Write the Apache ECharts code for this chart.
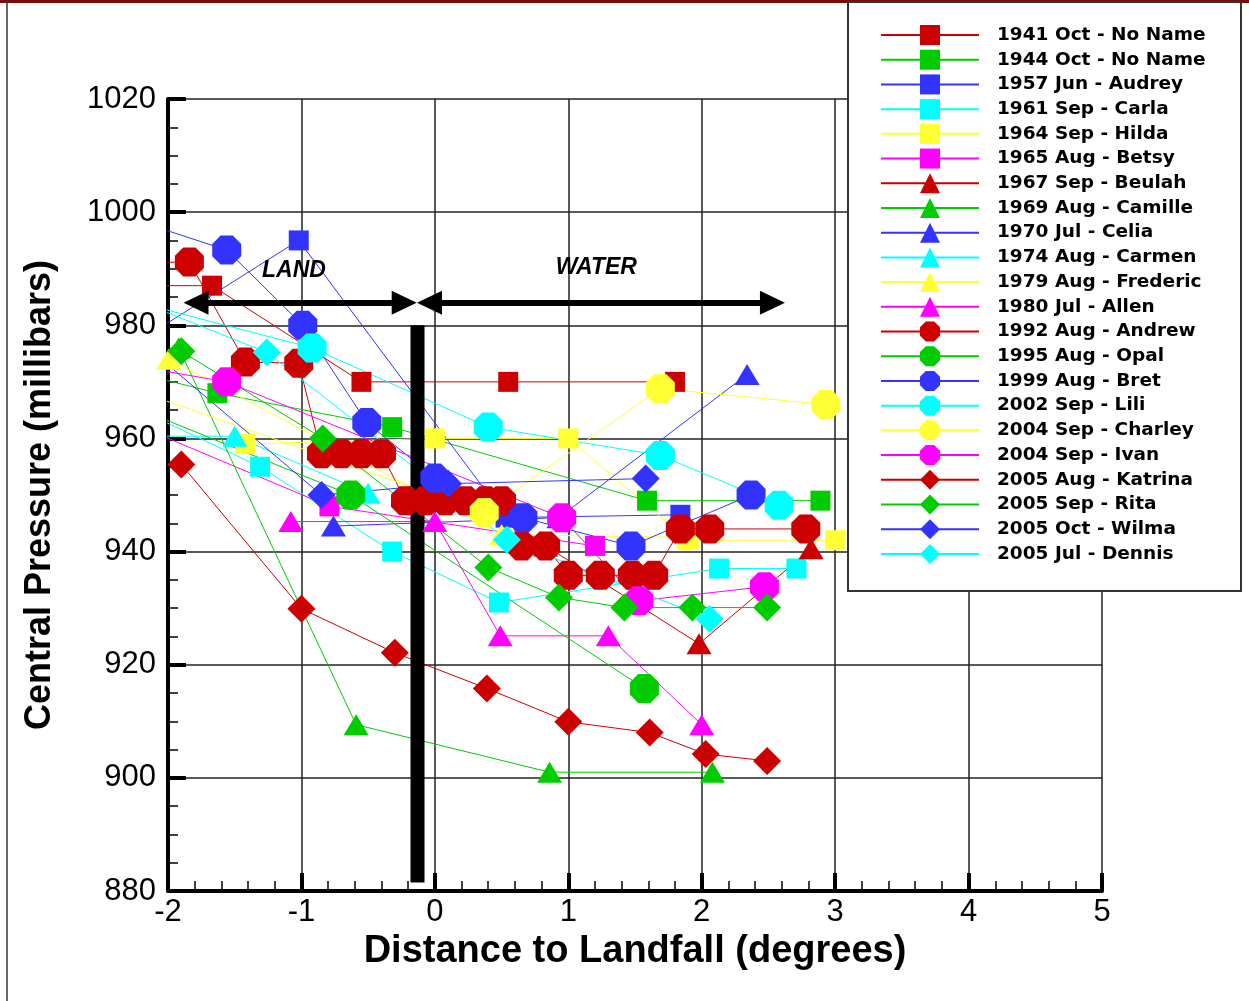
<!DOCTYPE html>
<html>
<head>
<meta charset="utf-8">
<title>Central Pressure vs Distance to Landfall</title>
<script src="https://cdn.jsdelivr.net/npm/echarts@6/dist/echarts.min.js"></script>
<style>
  html, body { margin: 0; padding: 0; background: #fff; }
  #chart { width: 1249px; height: 1001px; }
</style>
</head>
<body>
<div id="chart"></div>
<script>
// storm names, in legend order
const stormNames = [
  '1941 Oct - No Name', '1944 Oct - No Name', '1957 Jun - Audrey', '1961 Sep - Carla',
  '1964 Sep - Hilda', '1965 Aug - Betsy', '1967 Sep - Beulah', '1969 Aug - Camille',
  '1970 Jul - Celia', '1974 Aug - Carmen', '1979 Aug - Frederic', '1980 Jul - Allen',
  '1992 Aug - Andrew', '1995 Aug - Opal', '1999 Aug - Bret', '2002 Sep - Lili',
  '2004 Sep - Charley', '2004 Sep - Ivan', '2005 Aug - Katrina', '2005 Sep - Rita',
  '2005 Oct - Wilma', '2005 Jul - Dennis'
]

// [distance to landfall (deg), central pressure (mb)]
const s1941 = [[-2.3, 987], [-1.67, 987], [-0.55, 970], [0.55, 970], [1.8, 970]]
const s1944 = [[-2.3, 972], [-1.63, 968], [-0.32, 962], [1.59, 949], [2.89, 949]]
const sAudrey = [[-2.3, 976], [-1.02, 995], [0.53, 946], [1.84, 946.5]]
const sCarla = [[-2.3, 966], [-1.31, 955], [-0.32, 940], [0.48, 931], [2.13, 937], [2.71, 937]]
const sHilda = [[-1.42, 959], [0, 960], [1.0, 960], [1.9, 942], [3.0, 942]]
const sBetsy = [[-2.3, 963], [-0.79, 948], [1.2, 941]]
const sBeulah = [[0.83, 941], [1.98, 923.7], [2.82, 940.5]]
const sCamille = [[-1.92, 976], [-0.59, 909.4], [0.86, 901], [2.08, 901]]
const sCelia = [[-0.76, 944.5], [0.93, 946], [2.34, 971.3]]
const sCarmen = [[-2.3, 960.4], [-1.5, 960.4], [-0.5, 950.3]]
const sFrederic = [[-1.995, 974], [0.5, 943], [1.9, 942.5]]
const sAllen = [[-1.08, 945.3], [0, 945.3], [0.49, 925.1], [1.3, 925.1], [2.0, 909.4]]
const sAndrew = [[-2.3, 991], [-1.84, 991.2], [-1.42, 973.5], [-1.02, 973.3],
  [-0.85, 957.3], [-0.7, 957.3], [-0.55, 957.3], [-0.4, 957.3],
  [-0.22, 949], [-0.07, 949], [0.08, 949], [0.23, 949], [0.38, 949], [0.5, 949],
  [0.65, 941], [0.83, 941], [1.0, 935.8], [1.24, 935.8], [1.48, 935.8], [1.64, 935.8],
  [1.84, 944], [2.06, 944], [2.78, 944]]
const sOpal = [[-2.3, 966], [-0.63, 950], [1.57, 915.8]]
const sBret = [[-2.3, 999], [-1.56, 993.3], [-0.99, 980], [-0.51, 962.8], [0, 953], [0.66, 946], [1.47, 941], [2.37, 950]]
const sLili = [[-2.3, 984.5], [-0.92, 976], [0.4, 962], [1.69, 957], [2.58, 948.2]]
const sCharley = [[-2.3, 969], [0.37, 946.9], [1.69, 968.8], [2.93, 966]]
const sIvan = [[-2.3, 973], [-1.56, 970], [0.95, 946], [1.53, 931.3], [2.47, 933.8]]
const sKatrina = [[-1.9, 955.4], [-1.0, 929.9], [-0.3, 922.1], [0.39, 915.8], [1.0, 909.9], [1.61, 908], [2.03, 904.2], [2.49, 903]]
const sRita = [[-1.9, 975.4], [-0.84, 960], [0.4, 937.2], [0.93, 931.9], [1.42, 930.1], [1.93, 930.1], [2.49, 930.1]]
const sWilma = [[-2.3, 979], [-0.85, 950], [0.1, 952], [1.58, 952.9]]
const sDennis = [[-2.3, 985], [-1.26, 975.2], [0.54, 942.1], [2.06, 928.1]]

const tracks = [s1941, s1944, sAudrey, sCarla, sHilda, sBetsy, sBeulah, sCamille, sCelia, sCarmen,
  sFrederic, sAllen, sAndrew, sOpal, sBret, sLili, sCharley, sIvan, sKatrina, sRita, sWilma, sDennis]

// land / water annotations
const coastX = -0.13
const coastBar = [[coastX, 980], [coastX, 881.5]]
const arrowY = 984
const landArrow = [-1.79, -0.23]
const waterArrow = [-0.04, 2.53]
const regionLabels = [['LAND', -1.056, 989.7], ['WATER', 1.21, 990.1]]

const colors = ['#cc0000', '#00cc00', '#3333ff', '#00ffff', '#ffff33', '#ff00ff']
const octagon = 'path://M29,0L71,0L100,29L100,71L71,100L29,100L0,71L0,29Z'

function marker(i) {
  if (i < 6) return ['rect', 20]
  if (i < 12) return ['triangle', [25, 21]]
  if (i < 18) return [octagon, 29]
  return ['diamond', 28]
}

const chart = echarts.init(document.getElementById('chart'))

const series = tracks.map((d, i) => {
  const c = colors[i % 6]
  const m = marker(i)
  return {
    name: stormNames[i],
    type: 'line',
    data: d,
    symbol: m[0],
    symbolSize: m[1],
    clip: true,
    color: c,
    itemStyle: { color: c },
    lineStyle: { color: c, width: 1 },
    emphasis: { disabled: true },
    animation: false
  }
})

series.push({
  name: 'coast',
  type: 'line',
  data: coastBar,
  symbol: 'none',
  lineStyle: { color: '#000', width: 14, cap: 'butt' },
  z: 3,
  silent: true,
  animation: false,
  markLine: {
    silent: true,
    symbol: ['triangle', 'triangle'],
    symbolSize: [24, 25],
    label: { show: false },
    lineStyle: { color: '#000', width: 6, type: 'solid' },
    itemStyle: { color: '#000' },
    emphasis: { disabled: true },
    animation: false,
    data: [
      [{ coord: [landArrow[0], arrowY] }, { coord: [landArrow[1], arrowY] }],
      [{ coord: [waterArrow[0], arrowY] }, { coord: [waterArrow[1], arrowY] }]
    ]
  },
  markPoint: {
    silent: true,
    symbol: 'rect',
    symbolSize: 0,
    animation: false,
    label: {
      show: true,
      position: 'inside',
      color: '#000',
      fontFamily: 'Liberation Sans',
      fontSize: 23,
      fontWeight: 'bold',
      fontStyle: 'italic',
      formatter: p => p.name
    },
    data: regionLabels.map(r => ({ name: r[0], coord: [r[1], r[2]] }))
  }
})

const axisFont = { fontFamily: 'Liberation Sans', color: '#000' }

chart.setOption({
  backgroundColor: '#fff',
  animation: false,
  grid: { left: 168, right: 147, top: 99, bottom: 110 },
  xAxis: {
    type: 'value',
    min: -2,
    max: 5,
    interval: 1,
    name: 'Distance to Landfall (degrees)',
    nameLocation: 'middle',
    nameGap: 36,
    nameTextStyle: { ...axisFont, fontSize: 38, fontWeight: 'bold' },
    axisLine: { onZero: false, lineStyle: { color: '#000', width: 4 } },
    axisTick: { inside: true, length: 18, lineStyle: { color: '#000', width: 4 } },
    minorTick: { show: true, splitNumber: 5, length: 10, lineStyle: { color: '#000', width: 1.5 } },
    splitLine: { show: true, lineStyle: { color: '#222', width: 1.5 } },
    axisLabel: { ...axisFont, fontSize: 31, margin: 6 }
  },
  yAxis: {
    type: 'value',
    min: 880,
    max: 1020,
    interval: 20,
    name: 'Central Pressure (millibars)',
    nameLocation: 'middle',
    nameGap: 110,
    nameTextStyle: { ...axisFont, fontSize: 36, fontWeight: 'bold' },
    axisLine: { onZero: false, lineStyle: { color: '#000', width: 4 } },
    axisTick: { inside: true, length: 18, lineStyle: { color: '#000', width: 4 } },
    minorTick: { show: true, splitNumber: 4, length: 10, lineStyle: { color: '#000', width: 1.5 } },
    splitLine: { show: true, lineStyle: { color: '#222', width: 1.5 } },
    axisLabel: { ...axisFont, fontSize: 31, margin: 12, formatter: v => String(v) }
  },
  legend: {
    data: stormNames,
    orient: 'vertical',
    left: 880,
    top: 25,
    padding: 0,
    itemWidth: 98,
    itemHeight: 25,
    itemGap: 4.71,
    selectedMode: false,
    z: 20,
    textStyle: {
      fontFamily: 'DejaVu Sans',
      fontWeight: 'bold',
      fontSize: 18.5,
      color: '#000',
      padding: [0, 0, 0, 13]
    }
  },
  graphic: [
    { type: 'rect', z: 10, shape: { x: 0, y: 0, width: 1249, height: 3 }, style: { fill: '#7a0a0a' } },
    { type: 'line', z: 10, shape: { x1: 7, y1: 0, x2: 7, y2: 1001 }, style: { stroke: '#333', lineWidth: 1.5 } },
    { type: 'rect', z: 10, shape: { x: 848, y: 2, width: 393, height: 589 }, style: { fill: '#fff', stroke: '#333', lineWidth: 2 } }
  ],
  series: series
})
</script>
</body>
</html>
